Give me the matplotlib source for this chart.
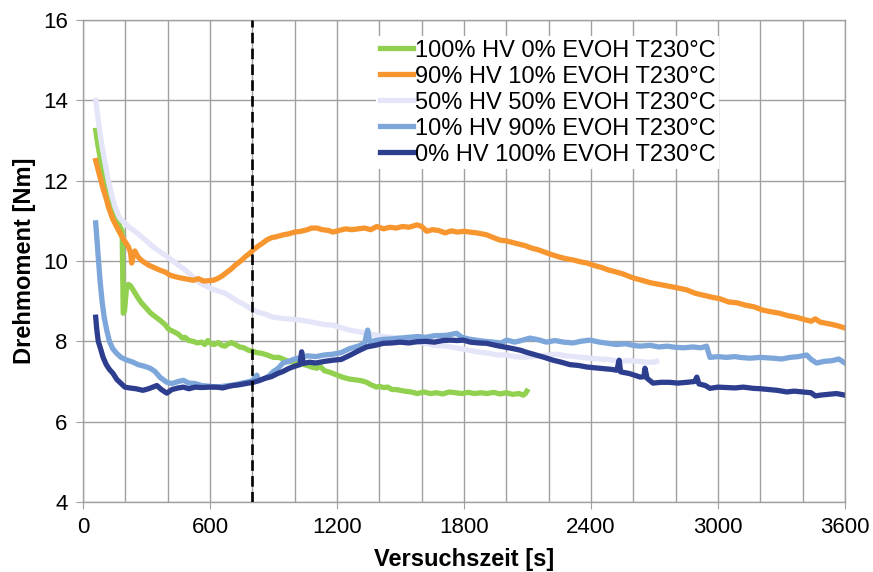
import numpy as np
import matplotlib
matplotlib.use("Agg")
import matplotlib.pyplot as plt
from matplotlib.ticker import MultipleLocator

plt.rcParams.update({"font.family": "Liberation Sans"})
fontSize = 16
labelSize = 17

# torque curves, time [s] / torque [Nm]
t_100hv = [60, 70, 80, 90, 100, 115, 130, 145, 160, 175, 185, 190, 196, 205, 214, 225, 240, 260, 277, 300,
           320, 345, 365, 387, 405, 425, 450, 470, 482, 500, 520, 540, 561, 575, 590, 605, 620, 640, 655, 670,
           690, 702, 720, 740, 760, 781, 800, 820, 845, 870, 900, 925, 945, 970, 1000, 1030, 1060, 1080, 1105,
           1120, 1140, 1160, 1181, 1200, 1230, 1260, 1290, 1315, 1340, 1360, 1387, 1400, 1420, 1440, 1460,
           1480, 1498, 1520, 1550, 1580, 1610, 1640, 1670, 1700, 1730, 1760, 1790, 1820, 1850, 1880, 1910,
           1940, 1970, 2000, 2030, 2060, 2080, 2090, 2097]
v_100hv = [13.25, 12.9, 12.6, 12.35, 12.1, 11.8, 11.5, 11.25, 11.05, 10.85, 10.75, 8.7, 8.75, 9.3, 9.42,
           9.38, 9.25, 9.08, 8.95, 8.82, 8.7, 8.6, 8.52, 8.42, 8.3, 8.25, 8.18, 8.08, 8.1, 8.02, 8.0, 7.96,
           7.98, 7.92, 8.02, 7.94, 7.92, 7.97, 7.9, 7.88, 7.95, 7.97, 7.92, 7.86, 7.84, 7.78, 7.76, 7.72, 7.7,
           7.66, 7.6, 7.6, 7.56, 7.5, 7.48, 7.44, 7.4, 7.36, 7.33, 7.38, 7.27, 7.24, 7.2, 7.16, 7.1, 7.06,
           7.04, 7.02, 6.98, 6.92, 6.86, 6.88, 6.85, 6.86, 6.8, 6.8, 6.78, 6.76, 6.74, 6.7, 6.74, 6.7, 6.72,
           6.69, 6.74, 6.72, 6.7, 6.73, 6.7, 6.72, 6.7, 6.73, 6.69, 6.72, 6.68, 6.7, 6.66, 6.7, 6.76]

t_90hv = [60, 70, 80, 95, 110, 120, 140, 167, 190, 214, 225, 230, 236, 245, 260, 280, 309, 330, 360, 390,
          410, 435, 460, 490, 520, 545, 570, 592, 615, 635, 655, 680, 700, 720, 745, 770, 790, 805, 830, 850,
          867, 890, 910, 945, 975, 1000, 1030, 1060, 1080, 1105, 1130, 1160, 1181, 1210, 1240, 1270, 1300,
          1330, 1360, 1388, 1420, 1450, 1480, 1510, 1540, 1578, 1600, 1624, 1650, 1680, 1710, 1740, 1770,
          1800, 1828, 1860, 1890, 1908, 1940, 1970, 2000, 2030, 2060, 2090, 2120, 2150, 2192, 2220, 2250,
          2280, 2320, 2350, 2381, 2420, 2450, 2480, 2510, 2550, 2598, 2640, 2680, 2720, 2760, 2800, 2853,
          2890, 2930, 2970, 3009, 3050, 3089, 3130, 3170, 3210, 3246, 3290, 3330, 3370, 3410, 3440, 3460,
          3482, 3510, 3540, 3570, 3600]
v_90hv = [12.5, 12.3, 12.1, 11.8, 11.55, 11.35, 11.05, 10.77, 10.55, 10.36, 10.2, 9.95, 10.1, 10.25, 10.1,
          10.0, 9.9, 9.85, 9.78, 9.72, 9.65, 9.61, 9.58, 9.55, 9.52, 9.56, 9.5, 9.51, 9.52, 9.56, 9.62, 9.72,
          9.8, 9.9, 10.0, 10.12, 10.2, 10.28, 10.38, 10.45, 10.52, 10.58, 10.6, 10.65, 10.68, 10.72, 10.74,
          10.78, 10.82, 10.82, 10.78, 10.76, 10.72, 10.76, 10.8, 10.78, 10.8, 10.82, 10.78, 10.86, 10.8,
          10.84, 10.82, 10.86, 10.84, 10.9, 10.86, 10.74, 10.78, 10.76, 10.7, 10.75, 10.72, 10.74, 10.72,
          10.7, 10.67, 10.65, 10.58, 10.52, 10.5, 10.46, 10.42, 10.38, 10.32, 10.28, 10.2, 10.15, 10.1, 10.06,
          10.02, 9.98, 9.95, 9.88, 9.84, 9.78, 9.74, 9.68, 9.58, 9.52, 9.46, 9.42, 9.38, 9.34, 9.28, 9.2,
          9.15, 9.1, 9.06, 8.98, 8.96, 8.9, 8.86, 8.78, 8.74, 8.7, 8.64, 8.6, 8.54, 8.5, 8.56, 8.48, 8.45,
          8.42, 8.38, 8.33]

t_50hv = [60, 70, 80, 90, 104, 120, 135, 151, 170, 185, 198, 215, 235, 255, 277, 300, 320, 340, 372, 400,
          425, 450, 482, 510, 530, 553, 580, 610, 640, 671, 700, 730, 760, 790, 805, 830, 860, 898, 930, 960,
          990, 1025, 1060, 1100, 1140, 1181, 1220, 1260, 1300, 1340, 1380, 1420, 1460, 1498, 1540, 1580,
          1620, 1660, 1718, 1760, 1800, 1840, 1875, 1920, 1960, 2000, 2040, 2079, 2120, 2160, 2200, 2238,
          2280, 2320, 2360, 2395, 2440, 2480, 2537, 2580, 2631, 2660, 2693, 2710]
v_50hv = [14.0, 13.6, 13.2, 12.85, 12.44, 12.0, 11.65, 11.35, 11.1, 11.0, 10.95, 10.85, 10.78, 10.7, 10.6,
          10.5, 10.4, 10.32, 10.2, 10.1, 10.0, 9.9, 9.78, 9.65, 9.55, 9.45, 9.38, 9.3, 9.25, 9.2, 9.1, 9.0,
          8.92, 8.82, 8.78, 8.72, 8.68, 8.6, 8.58, 8.56, 8.55, 8.53, 8.5, 8.46, 8.42, 8.4, 8.34, 8.28, 8.24,
          8.2, 8.16, 8.12, 8.1, 8.08, 8.02, 7.98, 7.95, 7.9, 7.88, 7.84, 7.8, 7.76, 7.73, 7.7, 7.66, 7.66,
          7.62, 7.6, 7.62, 7.64, 7.66, 7.68, 7.64, 7.62, 7.6, 7.58, 7.56, 7.55, 7.5, 7.52, 7.5, 7.48, 7.48,
          7.5]

t_10hv = [60, 65, 72, 80, 90, 100, 112, 125, 140, 159, 180, 200, 215, 237, 260, 290, 317, 340, 365, 396,
          420, 450, 474, 500, 530, 560, 600, 632, 660, 690, 720, 750, 790, 810, 821, 830, 860, 880, 900, 920,
          945, 970, 1000, 1030, 1060, 1100, 1140, 1181, 1220, 1260, 1300, 1330, 1345, 1355, 1380, 1420, 1460,
          1498, 1540, 1580, 1620, 1660, 1718, 1765, 1790, 1830, 1870, 1900, 1940, 1975, 2002, 2040, 2070,
          2112, 2150, 2190, 2230, 2270, 2316, 2350, 2395, 2440, 2480, 2520, 2560, 2600, 2631, 2680, 2720,
          2760, 2800, 2840, 2880, 2920, 2946, 2955, 2962, 3000, 3040, 3080, 3104, 3150, 3200, 3261, 3300,
          3340, 3380, 3419, 3440, 3466, 3500, 3540, 3570, 3600]
v_10hv = [10.95, 10.6, 10.1, 9.55, 9.0, 8.6, 8.28, 8.0, 7.82, 7.7, 7.6, 7.55, 7.52, 7.48, 7.42, 7.38, 7.33,
          7.25, 7.1, 6.98, 6.95, 7.0, 7.03, 6.96, 6.95, 6.9, 6.88, 6.86, 6.88, 6.9, 6.92, 6.96, 7.0, 7.05,
          7.16, 7.02, 7.08, 7.15, 7.25, 7.32, 7.46, 7.5, 7.56, 7.6, 7.64, 7.62, 7.66, 7.68, 7.72, 7.82, 7.88,
          7.95, 8.28, 7.98, 8.02, 8.05, 8.06, 8.08, 8.1, 8.12, 8.1, 8.14, 8.15, 8.2, 8.1, 8.05, 8.02, 8.0,
          7.98, 7.96, 8.03, 7.98, 8.02, 8.08, 8.04, 7.98, 8.02, 7.98, 7.96, 8.0, 8.03, 7.98, 7.95, 7.92,
          7.94, 7.9, 7.88, 7.9, 7.86, 7.88, 7.85, 7.84, 7.86, 7.84, 7.88, 7.72, 7.6, 7.62, 7.6, 7.62, 7.6,
          7.58, 7.6, 7.58, 7.56, 7.6, 7.62, 7.66, 7.55, 7.46, 7.5, 7.52, 7.56, 7.46]

t_0hv = [60, 65, 72, 80, 95, 110, 125, 142, 160, 180, 198, 220, 250, 283, 310, 330, 349, 370, 396, 420,
         450, 474, 500, 530, 560, 600, 632, 660, 690, 709, 740, 770, 805, 830, 860, 890, 920, 945, 970, 1000,
         1025, 1033, 1040, 1070, 1100, 1140, 1181, 1220, 1260, 1300, 1340, 1380, 1418, 1460, 1498, 1540,
         1576, 1620, 1660, 1700, 1734, 1770, 1797, 1830, 1870, 1908, 1950, 1990, 2030, 2065, 2100, 2140,
         2180, 2221, 2260, 2300, 2340, 2381, 2420, 2460, 2500, 2522, 2533, 2540, 2580, 2610, 2632, 2650,
         2655, 2665, 2693, 2730, 2770, 2810, 2853, 2890, 2900, 2910, 2940, 2962, 3000, 3040, 3080, 3120,
         3166, 3200, 3240, 3280, 3325, 3360, 3400, 3440, 3460, 3482, 3520, 3560, 3600]
v_0hv = [8.6, 8.3, 8.0, 7.87, 7.6, 7.42, 7.3, 7.2, 7.05, 6.95, 6.86, 6.84, 6.82, 6.78, 6.82, 6.86, 6.9,
         6.8, 6.71, 6.8, 6.84, 6.86, 6.82, 6.86, 6.85, 6.86, 6.86, 6.84, 6.88, 6.9, 6.92, 6.95, 6.98, 7.02,
         7.08, 7.12, 7.2, 7.25, 7.32, 7.38, 7.42, 7.74, 7.45, 7.48, 7.46, 7.5, 7.53, 7.55, 7.65, 7.76, 7.86,
         7.9, 7.95, 7.96, 7.98, 7.96, 7.99, 8.0, 7.98, 8.02, 8.03, 8.02, 8.03, 7.98, 7.96, 7.95, 7.9, 7.86,
         7.82, 7.78, 7.72, 7.66, 7.6, 7.53, 7.48, 7.42, 7.4, 7.36, 7.34, 7.32, 7.3, 7.28, 7.53, 7.24, 7.2,
         7.15, 7.11, 7.12, 7.33, 7.08, 6.96, 6.98, 6.98, 6.96, 6.98, 7.0, 7.11, 6.94, 6.9, 6.83, 6.86, 6.85,
         6.84, 6.86, 6.83, 6.82, 6.8, 6.78, 6.74, 6.76, 6.74, 6.72, 6.64, 6.66, 6.68, 6.7, 6.66]

labels = ["100% HV 0% EVOH T230°C", "90% HV 10% EVOH T230°C", "50% HV 50% EVOH T230°C",
          "10% HV 90% EVOH T230°C", "0% HV 100% EVOH T230°C"]
colors = ["#92D050", "#F7962F", "#E4E5F8", "#7DA7DA", "#2E3E8E"]
zorders = [2.0, 2.2, 2.1, 2.3, 2.4]
t_mix = 800

fig = plt.figure(figsize=(8.73, 5.72), dpi=100)
ax = fig.add_axes([83 / 873, 70 / 572, 762 / 873, 482 / 572])

series = [(t_100hv, v_100hv), (t_90hv, v_90hv), (t_50hv, v_50hv), (t_10hv, v_10hv), (t_0hv, v_0hv)]
for (t, v), lab, col, z in zip(series, labels, colors, zorders):
    ax.plot(t, v, color=col, lw=3.8, label=lab, zorder=z, solid_joinstyle="round")

ax.axvline(t_mix, color="black", lw=1.9, ls=(0, (4, 2)), zorder=3)

ax.set_xlim(0, 3600)
ax.set_ylim(4, 16)
ax.xaxis.set_major_locator(MultipleLocator(600))
ax.xaxis.set_minor_locator(MultipleLocator(200))
ax.yaxis.set_major_locator(MultipleLocator(2))
ax.grid(which="both", axis="x", color="#a0a0a0", lw=1.0, zorder=0)
ax.grid(which="major", axis="y", color="#a0a0a0", lw=1.0, zorder=0)
ax.set_axisbelow(True)
for s in ax.spines.values():
    s.set_color("#a0a0a0")
    s.set_linewidth(1.0)
ax.tick_params(which="major", length=5, color="#a0a0a0", labelsize=fontSize, pad=6)
ax.tick_params(which="minor", length=0)

ax.set_xlabel("Versuchszeit [s]", fontsize=labelSize, fontweight="bold", labelpad=7)
ax.set_ylabel("Drehmoment [Nm]", fontsize=labelSize, fontweight="bold", labelpad=5)

leg = ax.legend(loc="upper left", bbox_to_anchor=(376 / 873, 1 - 36 / 572),
                bbox_transform=fig.transFigure, fontsize=labelSize, frameon=True,
                fancybox=False, edgecolor="none", framealpha=1, borderpad=0.15,
                labelspacing=0.17, handlelength=1.4, handletextpad=0.1, borderaxespad=0)
leg.set_zorder(5)

fig.savefig("out.png", dpi=100)
